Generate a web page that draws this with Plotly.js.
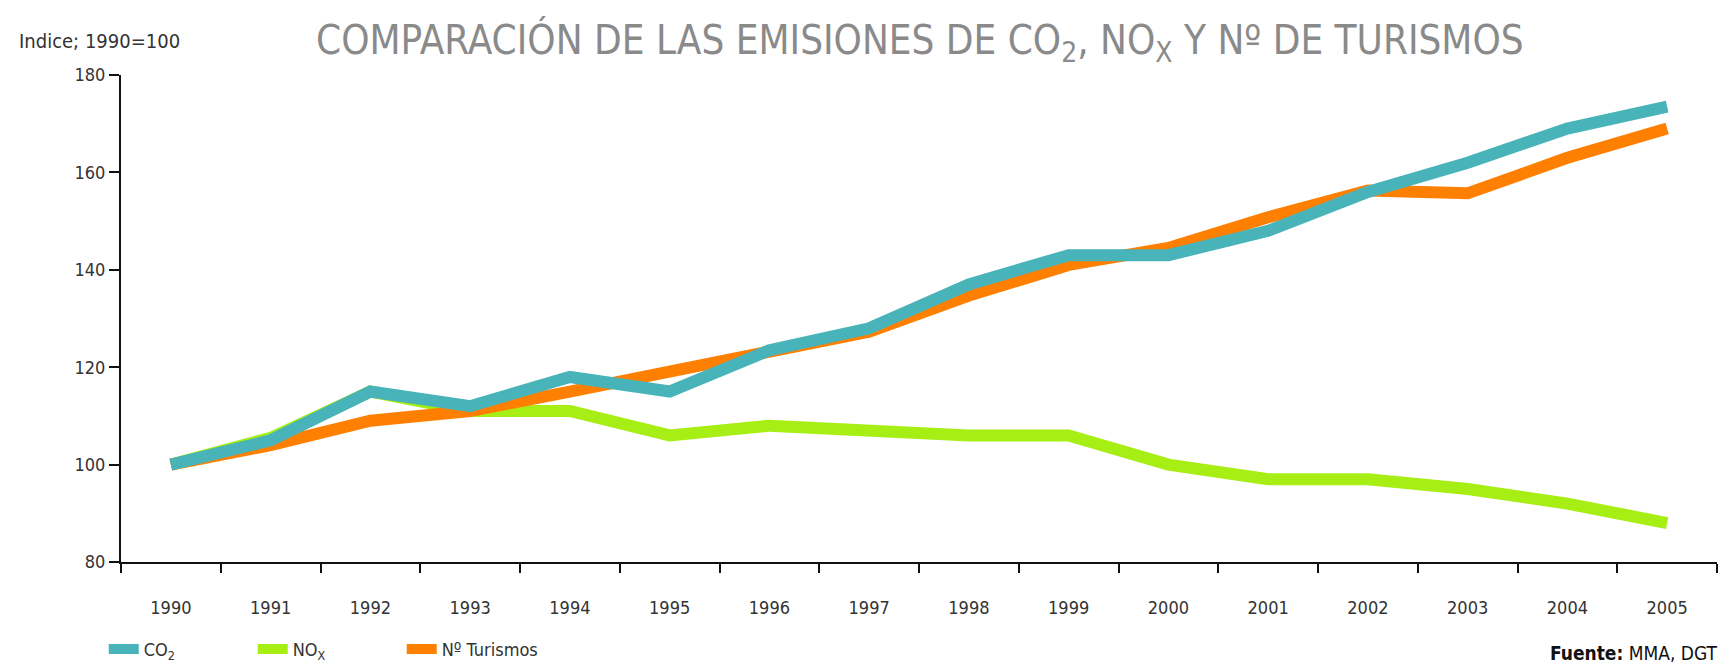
<!DOCTYPE html>
<html>
<head>
<meta charset="utf-8">
<script src="https://cdn.plot.ly/plotly-3.0.1.min.js"></script>
<style>
  html, body { margin: 0; padding: 0; background: #fff; }
  #grafica { width: 1729px; height: 664px; }
</style>
</head>
<body>
<div id="grafica"></div>
<script>
// Datos (índice 1990 = 100)
const anios = ["1990","1991","1992","1993","1994","1995","1996","1997",
               "1998","1999","2000","2001","2002","2003","2004","2005"];
const co2      = [100, 105, 115, 112, 118, 115, 123.5, 128, 137, 143, 143, 148, 156, 162, 169, 173.5];
const nox      = [100, 105.5, 115, 111, 111, 106, 108, 107, 106, 106, 100, 97, 97, 95, 92, 88];
const turismos = [100, 104, 109, 111, 115, 119, 123, 127.3, 134.7, 141, 144.5, 150.8, 156.3, 155.7, 163, 169];

const FUENTE = "DejaVu Sans Condensed, Liberation Sans Narrow, sans-serif";
const COLORES = { co2: "#48b3b8", nox: "#a6ee14", tur: "#ff8000" };

const serie = (y, nombre, color, rango) => ({
  type: "scatter",
  mode: "lines",
  x: anios,
  y: y,
  name: nombre,
  legendrank: rango,
  line: { color: color, width: 12, shape: "linear" },
  hoverinfo: "skip"
});

// orden de dibujo: NOx debajo, CO2 encima
const trazas = [
  serie(nox, "NO<sub>X</sub>", COLORES.nox, 2),
  serie(turismos, "Nº Turismos", COLORES.tur, 3),
  serie(co2, "CO<sub>2</sub>", COLORES.co2, 1)
];

const layout = {
  width: 1729,
  height: 664,
  paper_bgcolor: "#ffffff",
  plot_bgcolor: "#ffffff",
  font: { family: FUENTE, size: 18, color: "#333" },
  margin: { l: 121, r: 12, t: 75, b: 102, autoexpand: false },
  showlegend: true,
  legend: {
    orientation: "h",
    traceorder: "normal",
    xref: "container", yref: "container",
    x: 0.06, xanchor: "left",
    y: 0.022, yanchor: "middle",
    font: { family: FUENTE, size: 18, color: "#333" },
    entrywidth: 104,
    entrywidthmode: "pixels",
    bgcolor: "rgba(0,0,0,0)"
  },
  title: {
    text: "COMPARACIÓN DE LAS EMISIONES DE CO<sub>2</sub>, NO<sub>X</sub> Y Nº DE TURISMOS",
    font: { family: FUENTE, size: 40, color: "#8a8a8a" },
    x: 0.532, xanchor: "center", xref: "container",
    y: 0.94, yanchor: "middle", yref: "container"
  },
  xaxis: {
    type: "category",
    range: [-0.5, 15.5],
    automargin: false,
    showgrid: false,
    zeroline: false,
    showline: true,
    linecolor: "#111",
    linewidth: 2,
    ticks: "outside",
    tickson: "boundaries",
    ticklen: 9,
    tickwidth: 2,
    tickcolor: "#111",
    ticklabelstandoff: 28,
    tickfont: { family: FUENTE, size: 18, color: "#333" },
    fixedrange: true
  },
  yaxis: {
    range: [80, 180],
    automargin: false,
    tickvals: [80, 100, 120, 140, 160, 180],
    showgrid: false,
    zeroline: false,
    showline: true,
    linecolor: "#111",
    linewidth: 2,
    ticks: "outside",
    ticklen: 10,
    tickwidth: 2,
    tickcolor: "#111",
    tickfont: { family: FUENTE, size: 18, color: "#333" },
    fixedrange: true
  },
  annotations: [
    {
      text: "Indice; 1990=100",
      xref: "paper", yref: "paper",
      x: -0.065, y: 1.07, xanchor: "left", yanchor: "middle",
      showarrow: false,
      font: { family: FUENTE, size: 20, color: "#333" }
    },
    {
      text: "<b>Fuente:</b> MMA, DGT",
      xref: "paper", yref: "paper",
      x: 1.002, y: -0.187, xanchor: "right", yanchor: "middle",
      showarrow: false,
      font: { family: FUENTE, size: 19, color: "#111" }
    }
  ]
};

Plotly.newPlot("grafica", trazas, layout, { displayModeBar: false, staticPlot: true });
</script>
</body>
</html>
